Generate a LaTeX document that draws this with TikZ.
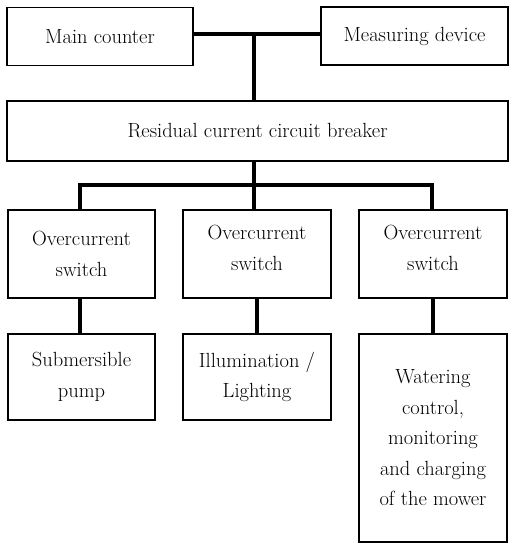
\documentclass[tikz,border=0pt]{standalone}
\usepackage{fontspec}
\begin{document}
\begin{tikzpicture}[x=1pt,y=-1pt,
  box/.style={draw=black,line width=1.7pt,inner sep=0pt,align=center,
    font=\fontsize{20.5}{30.5}\selectfont,text=black},
  txt/.style={align=center,font=\fontsize{20.5}{30.5}\selectfont,text=black,inner sep=0pt},
  wire/.style={line width=3.4pt,black}]
\useasboundingbox (0,0) rectangle (515,550);
\node[box,minimum width=186pt,minimum height=58pt] (main) at (100,36.5) {Main counter};
\node[box,minimum width=187pt,minimum height=58pt] (meas) at (414.5,36) {Measuring device};
\node[box,minimum width=501pt,minimum height=60pt] (rcb) at (257.5,131) {Residual current circuit breaker};
\node[box,minimum width=147pt,minimum height=88pt,label={[txt]center:Overcurrent\\switch}] (oc1) at (81.5,254) {};
\node[box,minimum width=148pt,minimum height=88pt,label={[txt,yshift=6pt]center:Overcurrent\\switch}] (oc2) at (257,254) {};
\node[box,minimum width=148pt,minimum height=88pt,label={[txt,yshift=6pt]center:Overcurrent\\switch}] (oc3) at (433,254) {};
\node[box,minimum width=147pt,minimum height=86pt] (sub) at (81.5,377) {Submersible\\pump};
\node[box,minimum width=148pt,minimum height=86pt] (ill) at (257,377) {Illumination /\\Lighting};
\node[box,minimum width=148pt,minimum height=208pt] (wat) at (433,438) {Watering\\control,\\monitoring\\and charging\\of the mower};
\coordinate (j1) at (254,34);
\coordinate (j2) at (254,185);
\draw[wire] (main.east |- j1) -- (meas.west |- j1);
\draw[wire] (j1) -- (j1 |- rcb.north);
\draw[wire] (rcb.south -| j2) -- (j2 |- oc2.north);
\draw[wire] ([xshift=-1.5pt]oc1.north) |- (j2) -| ([xshift=-1pt]oc3.north);
\draw[wire] ([xshift=-1.5pt]oc1.south) -- ([xshift=-1.5pt]sub.north);
\draw[wire] (oc2.south) -- (ill.north);
\draw[wire] (oc3.south) -- (wat.north);
\end{tikzpicture}
\end{document}
